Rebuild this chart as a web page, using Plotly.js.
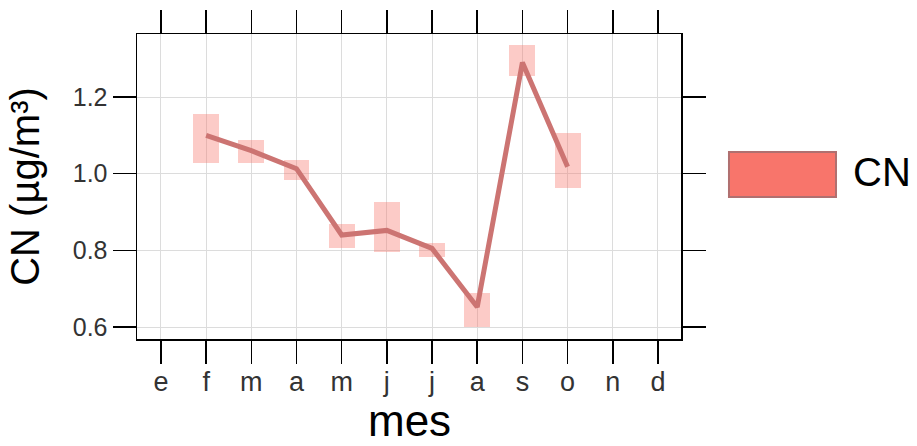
<!DOCTYPE html>
<html>
<head>
<meta charset="utf-8">
<script src="https://cdn.plot.ly/plotly-3.0.1.min.js"></script>
<style>html,body{margin:0;padding:0;background:#fff;}#chart{width:917px;height:446px;}</style>
</head>
<body>
<div id="chart"></div>
<script>
// Data
const monthLabels = ['e','f','m','a','m','j','j','a','s','o','n','d'];
const cnMean  = [null, 1.100, 1.060, 1.013, 0.840, 0.852, 0.805, 0.652, 1.290, 1.018, null, null];
const cnLower = [null, 1.028, 1.028, 0.984, 0.805, 0.795, 0.782, 0.600, 1.255, 0.963, null, null];
const cnUpper = [null, 1.155, 1.088, 1.036, 0.870, 0.925, 0.818, 0.690, 1.336, 1.106, null, null];
const yTicks = [0.6, 0.8, 1.0, 1.2];
const seriesName = 'CN';
const xTitle = 'mes';
const yTitle = 'CN (µg/m³)';

const xIdx = monthLabels.map((_, i) => i);
const font = 'Liberation Sans, Arial, Helvetica, sans-serif';

const band = {
  type: 'bar',
  x: xIdx,
  base: cnLower,
  y: cnUpper.map((u, i) => (u == null || cnLower[i] == null) ? null : u - cnLower[i]),
  width: 0.575,
  marker: {color: 'rgba(248,118,109,0.38)', line: {width: 0}},
  hoverinfo: 'skip',
  showlegend: false
};
const line = {
  type: 'scatter',
  mode: 'lines',
  x: xIdx,
  y: cnMean,
  line: {color: '#CC7472', width: 5},
  name: seriesName,
  showlegend: false
};

const layout = {
  width: 917, height: 446,
  margin: {l: 137, r: 236, t: 34, b: 107, pad: 0},
  paper_bgcolor: '#fff', plot_bgcolor: '#fff',
  font: {family: font, color: '#000'},
  xaxis: {
    range: [-0.53, 11.51],
    tickmode: 'array', tickvals: xIdx, ticktext: monthLabels,
    ticks: 'outside', ticklen: 23, tickwidth: 1.5, tickcolor: '#000',
    showline: true, linecolor: '#000', linewidth: 1.5, mirror: 'ticks',
    showgrid: true, gridcolor: '#dcdcdc', gridwidth: 1,
    zeroline: false,
    ticklabelstandoff: -5,
    tickfont: {size: 27, color: '#333', family: font}
  },
  yaxis: {
    range: [0.5687, 1.3644],
    tickmode: 'array', tickvals: yTicks, ticktext: yTicks.map(v => v.toFixed(1)),
    ticks: 'outside', ticklen: 23, tickwidth: 1.5, tickcolor: '#000',
    showline: true, linecolor: '#000', linewidth: 1.5, mirror: 'ticks',
    showgrid: true, gridcolor: '#dcdcdc', gridwidth: 1,
    zeroline: false,
    tickfont: {size: 25, color: '#333', family: font},
    title: {text: yTitle, font: {size: 40, color: '#000', family: font}, standoff: 20}
  },
  bargap: 0,
  shapes: [{
    type: 'rect', xref: 'paper', yref: 'paper',
    x0: 1.0882, x1: 1.2849, y0: 0.4656, y1: 0.6131,
    fillcolor: '#F8756B', line: {color: '#B07070', width: 2}
  }],
  annotations: [{
    xref: 'paper', yref: 'paper', x: 1.312, y: 0.546,
    xanchor: 'left', yanchor: 'middle', showarrow: false,
    text: seriesName, font: {size: 40, color: '#000', family: font}
  }, {
    xref: 'paper', yref: 'paper', x: 0.5, y: -0.3505,
    xanchor: 'center', yanchor: 'bottom', showarrow: false, borderpad: 0,
    text: xTitle, font: {size: 44, color: '#000', family: font}
  }]
};

Plotly.newPlot('chart', [band, line], layout, {staticPlot: true, displayModeBar: false});
</script>
</body>
</html>
